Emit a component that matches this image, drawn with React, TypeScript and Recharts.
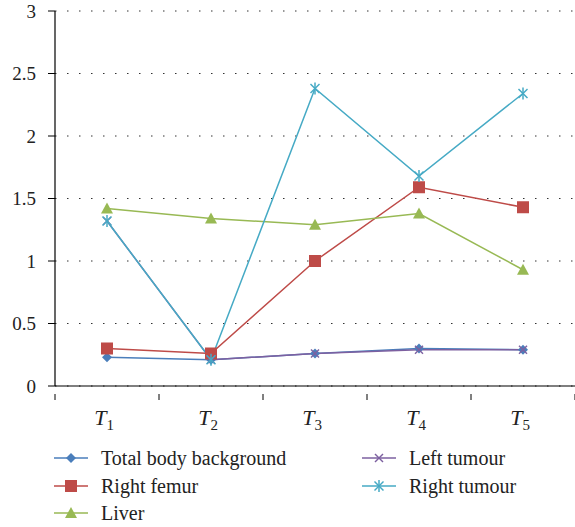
import React from "react";
import { LineChart, Line, XAxis, YAxis, CartesianGrid, Legend } from "recharts";

const CATEGORIES = ["1", "2", "3", "4", "5"];
const TOTAL_BODY = [0.23, 0.21, 0.26, 0.3, 0.29];
const RIGHT_FEMUR = [0.3, 0.26, 1.0, 1.59, 1.43];
const LIVER = [1.42, 1.34, 1.29, 1.38, 0.93];
const LEFT_TUMOUR = [1.32, 0.21, 0.26, 0.29, 0.29];
const RIGHT_TUMOUR = [1.32, 0.21, 2.38, 1.68, 2.34];
const Y_TICKS = [0, 0.5, 1, 1.5, 2, 2.5, 3];

const FONT = "'Liberation Serif', 'DejaVu Serif', 'Noto Serif', 'Times New Roman', Times, serif";

const SERIES = [
  { key: "total", name: "Total body background", color: "#4A7EBB", shape: "diamond" },
  { key: "femur", name: "Right femur", color: "#BE4B48", shape: "square" },
  { key: "liver", name: "Liver", color: "#98B954", shape: "triangle" },
  { key: "left", name: "Left tumour", color: "#7D60A0", shape: "x" },
  { key: "right", name: "Right tumour", color: "#46AAC5", shape: "star" },
];

const data = CATEGORIES.map((c, i) => ({
  x: i,
  label: c,
  total: TOTAL_BODY[i],
  femur: RIGHT_FEMUR[i],
  liver: LIVER[i],
  left: LEFT_TUMOUR[i],
  right: RIGHT_TUMOUR[i],
}));

// boundaries and centres on a numeric axis
const X_TICKS: number[] = [];
for (let i = -0.5; i <= CATEGORIES.length - 0.5; i += 0.5) X_TICKS.push(i);

function Marker({ shape, cx, cy, color }: { shape: string; cx: number; cy: number; color: string }) {
  if (shape === "diamond")
    return <polygon points={`${cx},${cy - 5} ${cx + 5},${cy} ${cx},${cy + 5} ${cx - 5},${cy}`} fill={color} />;
  if (shape === "square") return <rect x={cx - 6} y={cy - 6} width={12} height={12} fill={color} />;
  if (shape === "triangle")
    return <polygon points={`${cx},${cy - 6} ${cx + 6},${cy + 5} ${cx - 6},${cy + 5}`} fill={color} />;
  if (shape === "x")
    return (
      <g stroke={color} strokeWidth={1.5}>
        <line x1={cx - 4} y1={cy - 4} x2={cx + 4} y2={cy + 4} />
        <line x1={cx - 4} y1={cy + 4} x2={cx + 4} y2={cy - 4} />
      </g>
    );
  return (
    <g stroke={color} strokeWidth={1.5}>
      <line x1={cx - 4.5} y1={cy - 4.5} x2={cx + 4.5} y2={cy + 4.5} />
      <line x1={cx - 4.5} y1={cy + 4.5} x2={cx + 4.5} y2={cy - 4.5} />
      <line x1={cx} y1={cy - 6} x2={cx} y2={cy + 6} />
    </g>
  );
}

function XTick({ x, y, payload }: any) {
  const v = payload.value;
  if (!Number.isInteger(v)) {
    return <line x1={x} y1={y} x2={x} y2={y + 6} stroke="#000" strokeWidth={1} />;
  }
  return (
    <text x={x - 3} y={y + 31} textAnchor="middle" style={{ fontFamily: FONT }} fontSize={22} fill="#222">
      <tspan fontStyle="italic">T</tspan>
      <tspan fontSize={15} dy={5}>
        {CATEGORIES[v]}
      </tspan>
    </text>
  );
}

function LegendContent() {
  const item = (s: (typeof SERIES)[number], left: number, top: number) => (
    <div key={s.key} style={{ position: "absolute", left, top, display: "flex", alignItems: "center" }}>
      <svg width={36} height={14} style={{ display: "block" }}>
        <line x1={0} y1={7} x2={34} y2={7} stroke={s.color} strokeWidth={1.5} />
        <Marker shape={s.shape} cx={17} cy={7} color={s.color} />
      </svg>
      <span style={{ marginLeft: 11, fontFamily: FONT, fontSize: 20, color: "#222", lineHeight: "14px" }}>{s.name}</span>
    </div>
  );
  return (
    <div style={{ position: "relative", width: 575, height: 111 }}>
      {item(SERIES[0], 54, 35)}
      {item(SERIES[1], 54, 63)}
      {item(SERIES[2], 54, 90)}
      {item(SERIES[3], 362, 35)}
      {item(SERIES[4], 362, 63)}
    </div>
  );
}

export default function App() {
  return (
    <div style={{ position: "absolute", left: 0, top: 0, background: "#fff" }}>
      <LineChart width={575} height={527} data={data} margin={{ top: 11, right: 0, bottom: 0, left: 0 }}>
        <CartesianGrid vertical={false} stroke="#333" strokeDasharray="1.5 10.5" />
        <XAxis
          type="number"
          dataKey="x"
          domain={[-0.5, CATEGORIES.length - 0.5]}
          ticks={X_TICKS}
          interval={0}
          tick={<XTick />}
          tickLine={false}
          axisLine={{ stroke: "#000", strokeWidth: 1.2 }}
          height={30}
        />
        <YAxis
          domain={[0, 3]}
          ticks={Y_TICKS}
          width={55}
          tickSize={7}
          tickMargin={12}
          tickLine={{ stroke: "#000" }}
          axisLine={{ stroke: "#000", strokeWidth: 1.2 }}
          tick={{ style: { fontFamily: FONT }, fontSize: 19, fill: "#222" }}
        />
        {SERIES.map((s) => (
          <Line
            key={s.key}
            dataKey={s.key}
            name={s.name}
            stroke={s.color}
            strokeWidth={1.5}
            isAnimationActive={false}
            dot={(p: any) => <Marker key={`${s.key}-${p.index}`} shape={s.shape} cx={p.cx} cy={p.cy} color={s.color} />}
            activeDot={false}
          />
        ))}
        <Legend
          verticalAlign="bottom"
          height={111}
          content={<LegendContent />}
          wrapperStyle={{ left: 0, bottom: 0, width: 575, height: 111 }}
        />
      </LineChart>
    </div>
  );
}
